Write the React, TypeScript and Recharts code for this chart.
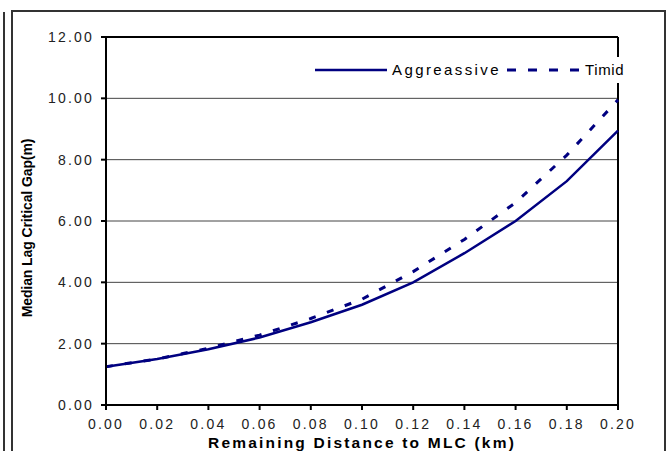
import { LineChart, Line, XAxis, YAxis, CartesianGrid, ReferenceLine, Label } from "recharts";

const distance = [0.0, 0.02, 0.04, 0.06, 0.08, 0.1, 0.12, 0.14, 0.16, 0.18, 0.2];
const aggressive = [1.25, 1.5, 1.82, 2.2, 2.7, 3.27, 4.0, 4.95, 6.0, 7.3, 8.95];
const timid = [1.25, 1.5, 1.85, 2.28, 2.82, 3.45, 4.35, 5.4, 6.6, 8.15, 9.95];
const xTicks = [0, 0.02, 0.04, 0.06, 0.08, 0.1, 0.12, 0.14, 0.16, 0.18, 0.2];
const yTicks = [0, 2, 4, 6, 8, 10, 12];
const seriesNames = ["Aggreassive", "Timid"];

const data = distance.map((d, i) => ({ d, aggressive: aggressive[i], timid: timid[i] }));

const NAVY = "#000080";
const font = "'Liberation Sans', Arial, sans-serif";

// legend sits on top of the plot with a white box behind it
function LegendBox() {
  return (
    <div style={{ position: "absolute", left: 311, top: 57, width: 316, height: 26, background: "#fff" }}>
      <svg width={316} height={26}>
        <line x1={4} y1={13} x2={76} y2={13} stroke={NAVY} strokeWidth={2.5} />
        <text x={81} y={18} fontFamily={font} fontSize={15} letterSpacing={2.4} fill="#000">
          {seriesNames[0]}
        </text>
        <line x1={196} y1={13} x2={268} y2={13} stroke={NAVY} strokeWidth={3} strokeDasharray="9 12" />
        <text x={274} y={18} fontFamily={font} fontSize={15} letterSpacing={0.6} fill="#000">
          {seriesNames[1]}
        </text>
      </svg>
    </div>
  );
}

export default function App() {
  return (
    <div style={{ position: "absolute", left: 0, top: 0, width: 670, height: 451, background: "#fff", overflow: "hidden" }}>
      <div style={{ position: "absolute", left: 3, top: 12, width: 2, height: 460, background: "#333" }} />
      <div
        style={{
          position: "absolute",
          left: 11,
          top: 10,
          width: 655,
          height: 460,
          border: "2px solid #333",
          boxSizing: "border-box",
        }}
      />
      <div style={{ position: "absolute", left: 0, top: 0 }}>
        <LineChart width={670} height={451} data={data} margin={{ top: 37, right: 52, bottom: 0, left: 0 }}>
          <CartesianGrid vertical={false} stroke="#444" strokeWidth={1} />
          <XAxis
            dataKey="d"
            type="number"
            domain={[0, 0.2]}
            ticks={xTicks}
            tickFormatter={(v: number) => v.toFixed(2)}
            tick={{ fontSize: 14, fill: "#222", fontFamily: font, letterSpacing: 2.2 }}
            stroke="#000"
            strokeWidth={2}
            tickSize={5}
            tickMargin={9}
            height={46}
            interval={0}
          >
            <Label
              content={() => (
                <text
                  x={362}
                  y={448}
                  textAnchor="middle"
                  fontFamily={font}
                  fontSize={15.5}
                  fontWeight="bold"
                  letterSpacing={2.2}
                  fill="#000"
                >
                  Remaining Distance to MLC (km)
                </text>
              )}
            />
          </XAxis>
          <YAxis
            domain={[0, 12]}
            ticks={yTicks}
            tickFormatter={(v: number) => v.toFixed(2)}
            tick={{ fontSize: 14, fill: "#222", fontFamily: font, letterSpacing: 2.2 }}
            stroke="#000"
            strokeWidth={2}
            tickSize={5}
            tickMargin={7}
            width={106}
            interval={0}
          >
            <Label
              content={() => (
                <text
                  transform="translate(32,228) rotate(-90)"
                  textAnchor="middle"
                  fontFamily={font}
                  fontSize={14}
                  fontWeight="bold"
                  letterSpacing={-0.1}
                  fill="#000"
                >
                  Median Lag Critical Gap(m)
                </text>
              )}
            />
          </YAxis>
          <ReferenceLine y={12} stroke="#000" strokeWidth={2} />
          <ReferenceLine x={0.2} stroke="#000" strokeWidth={2} />
          <Line
            dataKey="aggressive"
            name={seriesNames[0]}
            type="linear"
            stroke={NAVY}
            strokeWidth={2.5}
            dot={false}
            isAnimationActive={false}
          />
          <Line
            dataKey="timid"
            name={seriesNames[1]}
            type="linear"
            stroke={NAVY}
            strokeWidth={3}
            strokeDasharray="7 12"
            dot={false}
            isAnimationActive={false}
          />
        </LineChart>
      </div>
      <LegendBox />
    </div>
  );
}
